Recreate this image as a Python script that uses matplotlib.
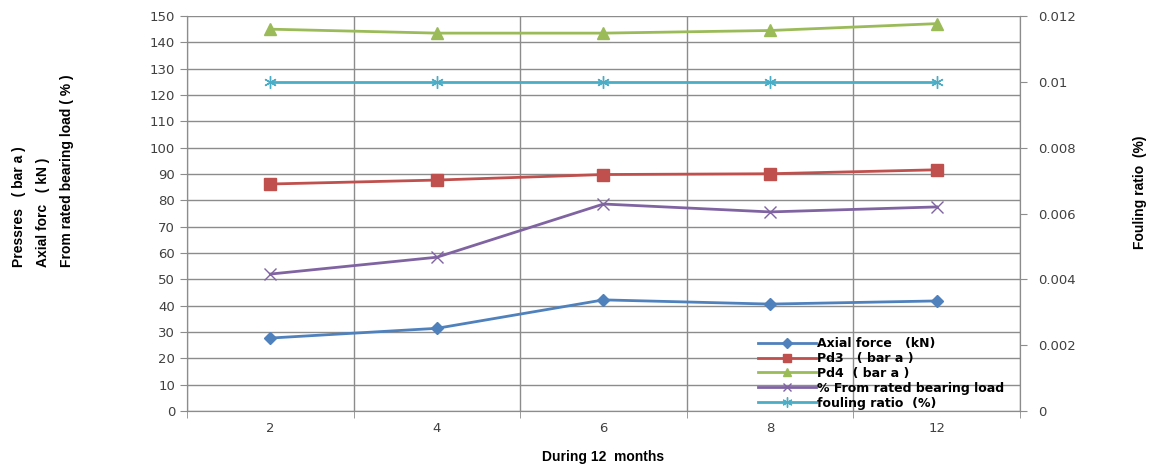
import matplotlib
matplotlib.use("Agg")
import matplotlib.pyplot as plt
from matplotlib.ticker import FixedLocator, MultipleLocator

months = ["2", "4", "6", "8", "12"]
axial_force = [27.7, 31.4, 42.2, 40.6, 41.8]
pd3 = [86.2, 87.7, 89.8, 90.1, 91.6]
pd4 = [145.0, 143.5, 143.5, 144.5, 147.1]
rated_load = [52.0, 58.4, 78.6, 75.6, 77.5]
fouling = [0.01, 0.01, 0.01, 0.01, 0.01]
fouling_ticks = [0, 0.002, 0.004, 0.006, 0.008, 0.01, 0.012]
fouling_tick_labels = ["0", "0.002", "0.004", "0.006", "0.008", "0.01", "0.012"]

grid_c = "#8c8c8c"
tick_c = "#404040"

fig = plt.figure(figsize=(11.53, 4.68), dpi=100)
ax = fig.add_axes([0.1622, 0.1218, 0.7224, 0.8440])
ax2 = ax.twinx()

x = list(range(len(months)))

l1, = ax.plot(x, axial_force, color="#4F81BD", lw=2, marker="D", ms=6,
              label="Axial force   (kN)")
l2, = ax.plot(x, pd3, color="#C0504D", lw=2, marker="s", ms=8,
              label="Pd3   ( bar a )")
l3, = ax.plot(x, pd4, color="#9BBB59", lw=2, marker="^", ms=8,
              label="Pd4  ( bar a )")
l4, = ax.plot(x, rated_load, color="#8064A2", lw=2, marker="x", ms=8,
              mew=1, label="% From rated bearing load")
l5, = ax2.plot(x, fouling, color="#4BACC6", lw=2, marker=(6, 2, 0), ms=9,
               mew=1, label="fouling ratio  (%)")

ax.set_xlim(-0.5, len(months) - 0.5)
ax.set_ylim(0, 150)
ax.yaxis.set_major_locator(MultipleLocator(10))

ax2.set_yticks(fouling_ticks)
ax2.set_yticklabels(fouling_tick_labels)
ax2.set_ylim(0, 0.012)

ax.set_xticks(x)
ax.set_xticklabels(months)
ax.xaxis.set_minor_locator(FixedLocator([i - 0.5 for i in range(len(months) + 1)]))
ax.tick_params(axis="x", which="major", length=0, pad=8)
ax.tick_params(axis="x", which="minor", length=5, color=grid_c)
ax.tick_params(axis="y", length=5, color=grid_c)
ax2.tick_params(axis="y", length=5, color=grid_c, pad=8)
for a in (ax, ax2):
    a.tick_params(labelsize=9.5, labelcolor=tick_c)

ax.grid(True, axis="y", which="major", color=grid_c, lw=1)
ax.grid(True, axis="x", which="minor", color=grid_c, lw=1)
ax.set_axisbelow(True)

for a in (ax, ax2):
    a.spines["top"].set_visible(False)
    for s in ("left", "right", "bottom"):
        a.spines[s].set_color(grid_c)

ax.set_xlabel("During 12  months", fontsize=10, fontweight="bold",
              family="Liberation Sans", labelpad=11)

fig.text(0.037, 0.636,
         "Pressres   ( bar a )\nAxial forc   ( kN )\nFrom rated bearing load ( % )",
         rotation=90, ha="center", va="center", multialignment="left",
         fontsize=10, fontweight="bold", family="Liberation Sans",
         linespacing=1.9)
fig.text(0.989, 0.59, "Fouling ratio  (%)", rotation=90, ha="center",
         va="center", fontsize=10, fontweight="bold", family="Liberation Sans")

leg = ax2.legend(handles=[l1, l2, l3, l4, l5], loc="lower right",
                 bbox_to_anchor=(0.995, -0.025), frameon=False,
                 handlelength=4.6, handletextpad=0.15, labelspacing=0.15,
                 markerscale=0.8,
                 prop={"family": "DejaVu Sans", "weight": "bold", "size": 9})

fig.savefig("out.png", dpi=100)
